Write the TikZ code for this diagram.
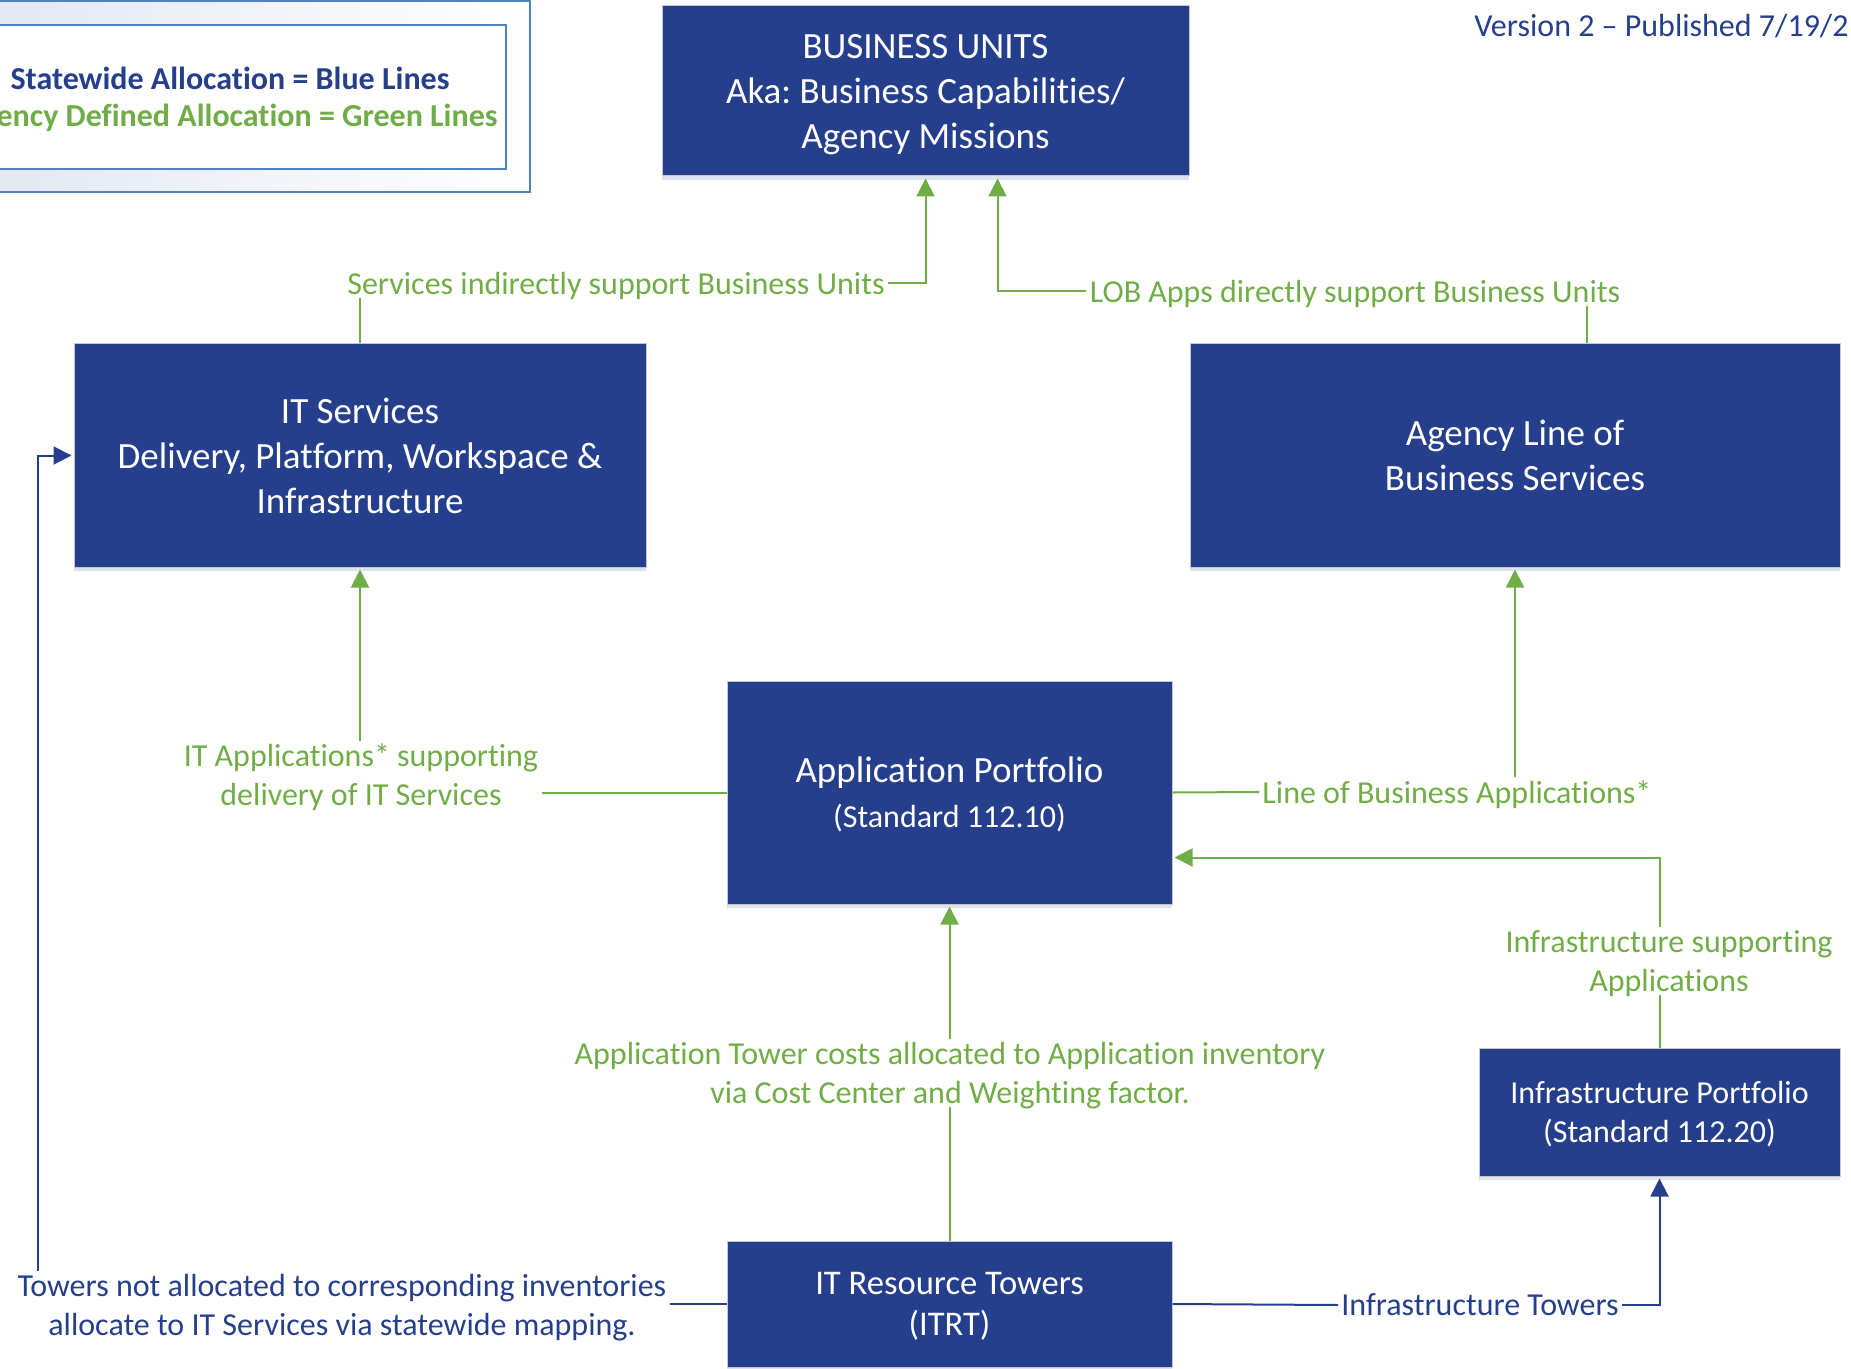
\documentclass[tikz,border=0pt]{standalone}
\usepackage{fontspec}
\setmainfont{Carlito}[Ligatures=NoCommon]
\usepackage{tikz}
\usetikzlibrary{arrows.meta, shadows}
\definecolor{unitblue}{RGB}{37,63,141}
\definecolor{allocgreen}{RGB}{112,173,71}
\definecolor{legendblue}{RGB}{79,129,189}
\definecolor{legendtint}{RGB}{226,231,242}
\frenchspacing

\begin{document}
\begin{tikzpicture}[x=0.5pt, y=-0.5pt,
    unit/.style={rectangle, fill=unitblue, draw=gray!45, line width=0.5pt, text=white, align=center, inner sep=0pt,
        text depth=0pt, font=\fontsize{18.5}{22.5}\selectfont,
        drop shadow={shadow xshift=0pt, shadow yshift=-2pt, fill=unitblue!30, opacity=0.5}},
    glabel/.style={text=allocgreen, align=center, inner sep=1.5pt, text depth=0pt, font=\fontsize{16}{19.5}\selectfont},
    blabel/.style={glabel, text=unitblue},
    gline/.style={draw=allocgreen, line width=1pt},
    bline/.style={draw=unitblue, line width=1pt},
    toarrow/.style={-{Triangle[length=9pt, width=9pt]}, shorten >=1pt}]
    \useasboundingbox (0,0) rectangle (1851,1369);
    \clip (0,0) rectangle (1851,1369);

    % Legend
    \path[left color=legendtint, right color=white, draw=legendblue, line width=1pt] (-20,1) rectangle (530,192);
    \draw[legendblue, line width=1pt, fill=white] (-20,25) rectangle (506,169);
    \node[text=unitblue, font=\bfseries\fontsize{16}{19}\selectfont] (keyblue) at (230,78) {Statewide Allocation = Blue Lines};
    \node[text=allocgreen, font=\bfseries\fontsize{16}{19}\selectfont] (keygreen) at (230,118) {Agency Defined Allocation = Green Lines};
    \node[anchor=west, inner sep=0pt, text=unitblue, font=\fontsize{16}{19}\selectfont] (version) at (1474,26) {Version 2 – Published 7/19/2};

    % Boxes
    \node[unit, minimum width=263.5pt, minimum height=85pt] (bu) at (925.5,91) {BUSINESS UNITS\\Aka: Business Capabilities/\\Agency Missions};
    \node[unit, minimum width=286pt, minimum height=111.5pt] (its) at (360,455.5) {IT Services\\Delivery, Platform, Workspace \&\\Infrastructure};
    \node[unit, minimum width=325pt, minimum height=111.5pt] (lob) at (1515,455.5) {Agency Line of\\Business Services};
    \node[unit, minimum width=222.5pt, minimum height=111.5pt] (ap) at (949.5,792.5) {Application Portfolio\\{\fontsize{16}{22}\selectfont (Standard 112.10)}};
    \node[unit, minimum width=180.5pt, minimum height=64pt, font=\fontsize{16}{19.5}\selectfont] (ip) at (1659.5,1112) {Infrastructure Portfolio\\(Standard 112.20)};
    \node[unit, minimum width=222.5pt, minimum height=63pt, font=\fontsize{17.3}{20.5}\selectfont] (itrt) at (949.5,1304) {IT Resource Towers\\(ITRT)};

    % Connector labels
    \node[glabel] (svcbu) at (616,283) {Services indirectly support Business Units};
    \node[glabel] (lobbu) at (1355,291) {LOB Apps directly support Business Units};
    \node[glabel] (appsvc) at (361,775) {IT Applications* supporting\\delivery of IT Services};
    \node[glabel] (applob) at (1457,792) {Line of Business Applications*};
    \node[glabel] (infapp) at (1669,961) {Infrastructure supporting\\Applications};
    \node[glabel] (towapp) at (950,1073) {Application Tower costs allocated to Application inventory\\via Cost Center and Weighting factor.};
    \node[blabel] (towsvc) at (342,1305) {Towers not allocated to corresponding inventories\\allocate to IT Services via statewide mapping.};
    \node[blabel] (towinf) at (1480,1305) {Infrastructure Towers};

    % Green lines
    \draw[gline] (its.north) -- (its.north |- svcbu.south);
    \draw[gline, toarrow] (svcbu.east) -| (bu.south);
    \draw[gline] ([xshift=36pt]lob.north) -- ([xshift=36pt]lob.north |- lobbu.south);
    \draw[gline, toarrow] (lobbu.west) -| ([xshift=36pt]bu.south);
    \draw[gline] (ap.west) -- (appsvc.east |- ap.west);
    \draw[gline, toarrow] (its.south |- appsvc.north) -- (its.south);
    \draw[gline] (ap.east) -- (applob.west);
    \draw[gline, toarrow] (lob.south |- applob.north) -- (lob.south);
    \draw[gline] (ip.north) -- (ip.north |- infapp.south);
    \draw[gline, toarrow] (ip.north |- infapp.north) |- ([yshift=-32.5pt]ap.east);
    \draw[gline] (itrt.north) -- (itrt.north |- towapp.south);
    \draw[gline, toarrow] (ap.south |- towapp.north) -- (ap.south);

    % Blue lines
    \draw[bline] (itrt.west) -- (towsvc.east |- itrt.west);
    \draw[bline, toarrow] ([xshift=-18pt]its.west |- towsvc.north) |- (its.west);
    \draw[bline] (itrt.east) -- (towinf.west);
    \draw[bline, toarrow] (towinf.east) -| (ip.south);
\end{tikzpicture}
\end{document}
